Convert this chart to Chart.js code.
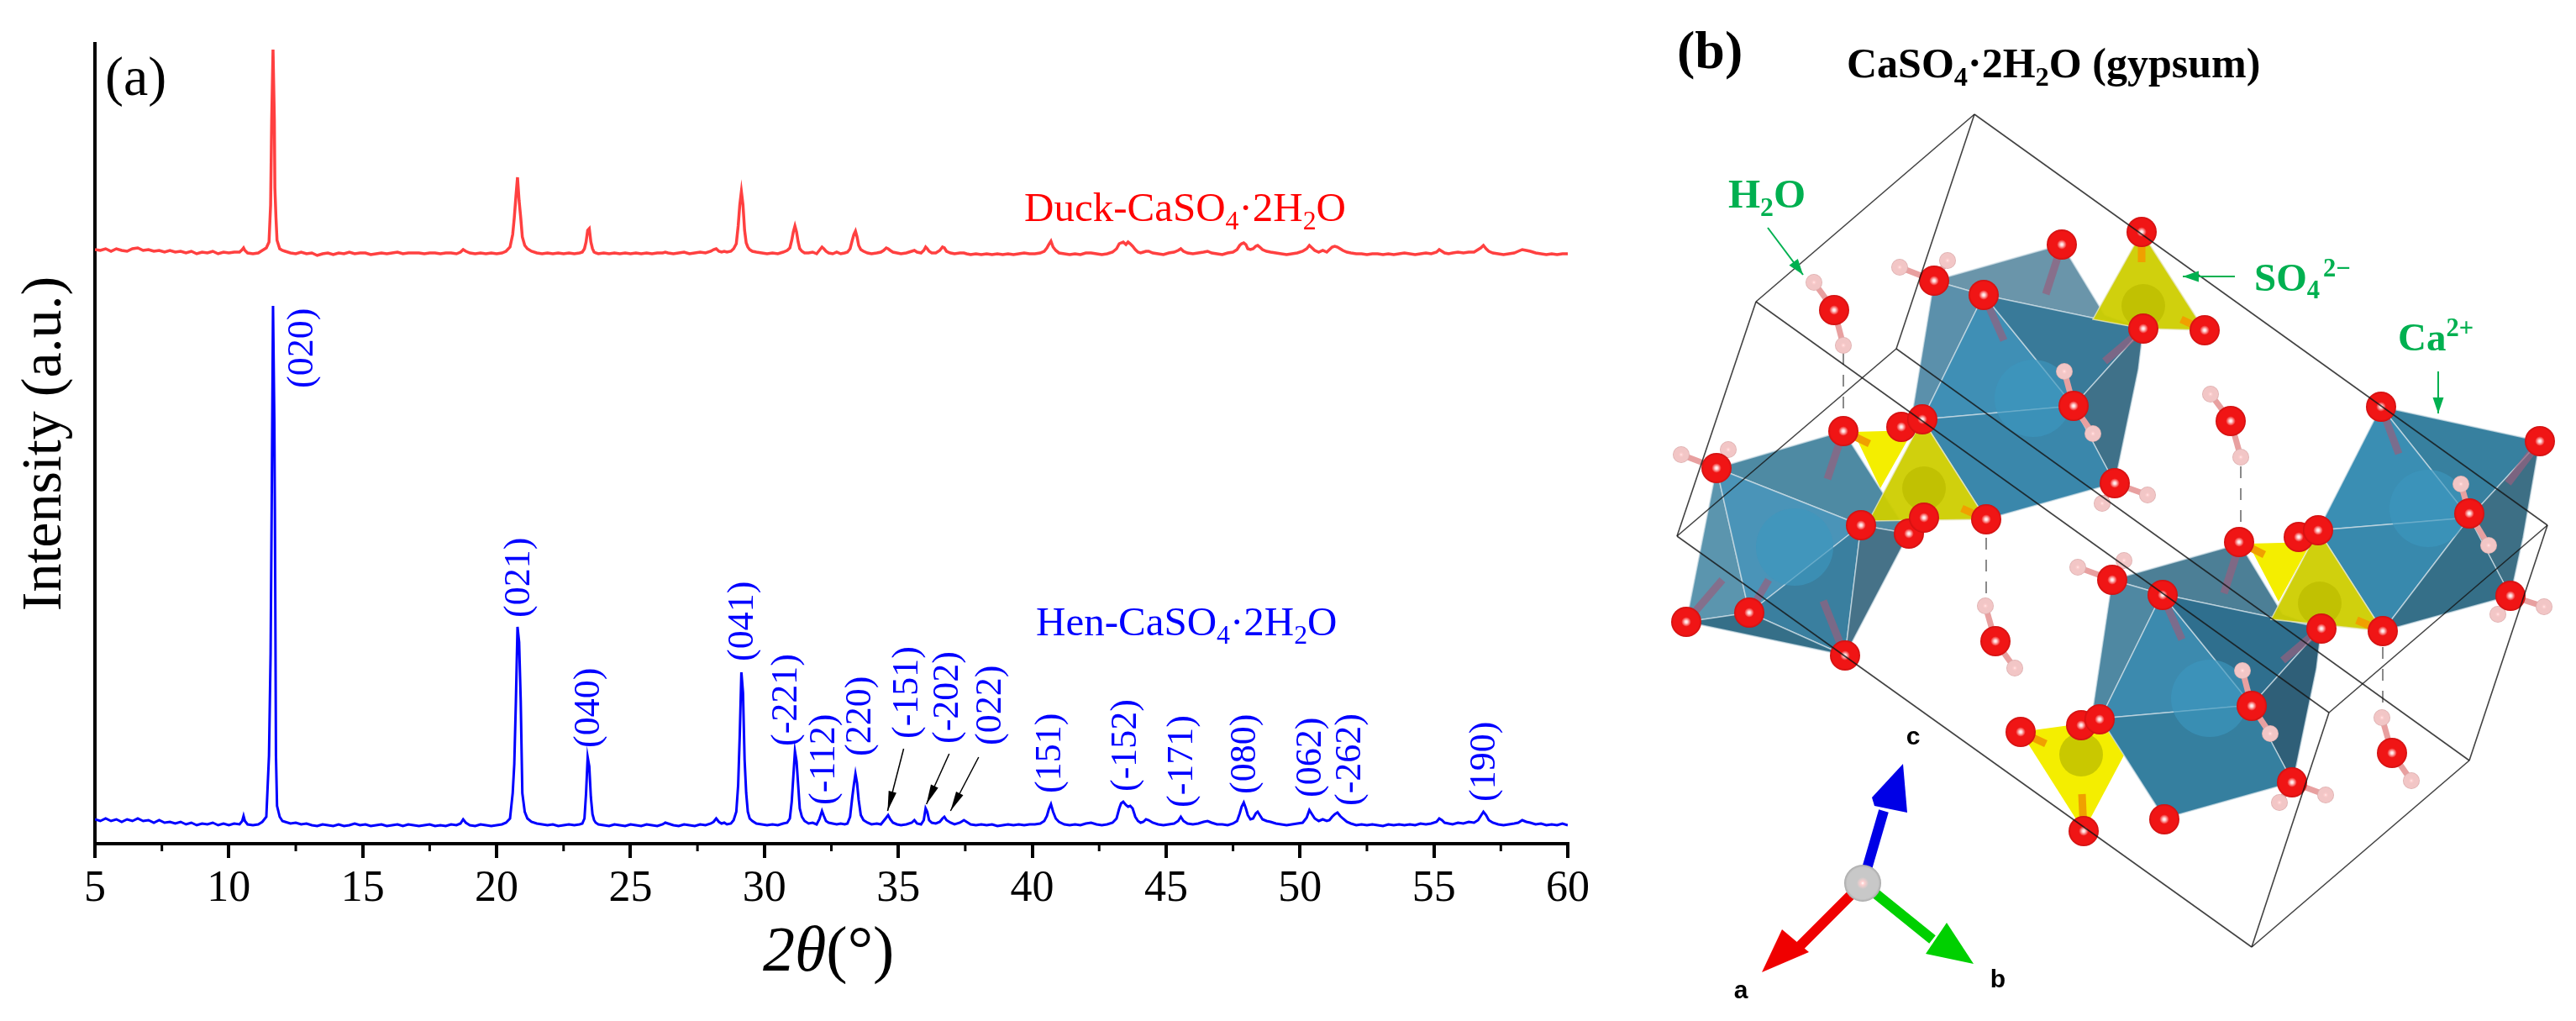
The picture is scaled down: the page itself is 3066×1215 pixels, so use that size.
<!DOCTYPE html>
<html>
<head>
<meta charset="utf-8">
<title>CaSO4·2H2O XRD</title>
<script src="https://cdn.jsdelivr.net/npm/chart.js@4"></script>
<style>
    html, body { margin: 0; padding: 0; background: #fff; }
    canvas { position: absolute; top: 0; }
    #graficoXRD { left: 0; }
    #graficoCelda { left: 1950px; }
</style>
</head>
<body>
<canvas id="graficoXRD" width="1950" height="1215"></canvas>
<canvas id="graficoCelda" width="1116" height="1215"></canvas>
<script>
// =========================
// DATA: XRD patterns
// =========================
const twoTheta = [
    5.0,5.2,5.4,5.6,5.8,6.0,6.2,6.4,6.6,6.8,7.0,7.2,7.4,7.6,7.8,8.0,
    8.2,8.4,8.6,8.8,9.0,9.2,9.4,9.6,9.8,10.0,10.2,10.4,10.5,10.55,10.6,10.7,
    10.9,11.1,11.25,11.4,11.5,11.56,11.6,11.65,11.7,11.72,11.76,11.8,11.9,12.0,12.1,12.3,
    12.5,12.7,12.9,13.1,13.3,13.5,13.7,13.9,14.1,14.3,14.5,14.7,14.9,15.1,15.3,15.5,
    15.7,15.9,16.1,16.3,16.5,16.7,16.9,17.1,17.3,17.5,17.7,17.9,18.1,18.3,18.5,18.65,
    18.75,18.85,19.0,19.2,19.4,19.6,19.8,20.0,20.2,20.35,20.5,20.6,20.66,20.72,20.78,20.84,
    20.9,20.96,21.05,21.15,21.3,21.5,21.7,21.9,22.1,22.3,22.5,22.7,22.9,23.1,23.2,23.28,
    23.34,23.4,23.46,23.52,23.58,23.64,23.7,23.8,24.0,24.2,24.4,24.6,24.8,25.0,25.2,25.4,
    25.6,25.8,26.0,26.2,26.3,26.4,26.6,26.8,27.0,27.2,27.4,27.6,27.8,28.0,28.1,28.2,
    28.3,28.4,28.5,28.6,28.75,28.85,28.95,29.02,29.08,29.14,29.2,29.26,29.32,29.38,29.45,29.55,
    29.7,29.9,30.1,30.3,30.5,30.7,30.85,30.95,31.02,31.08,31.14,31.2,31.26,31.32,31.4,31.5,
    31.65,31.8,31.95,32.05,32.15,32.22,32.3,32.4,32.55,32.7,32.85,33.0,33.1,33.2,33.28,33.34,
    33.4,33.46,33.52,33.6,33.7,33.85,34.0,34.2,34.35,34.45,34.55,34.62,34.7,34.8,34.95,35.1,
    35.3,35.5,35.6,35.7,35.85,35.95,36.02,36.08,36.15,36.25,36.4,36.55,36.65,36.72,36.8,36.95,
    37.1,37.3,37.45,37.55,37.7,37.9,38.1,38.3,38.5,38.7,38.9,39.1,39.3,39.5,39.7,39.9,
    40.1,40.3,40.45,40.55,40.62,40.7,40.78,40.88,41.0,41.2,41.4,41.6,41.8,42.0,42.2,42.4,
    42.6,42.8,43.0,43.15,43.25,43.32,43.4,43.5,43.58,43.66,43.75,43.85,43.95,44.05,44.15,44.25,
    44.35,44.5,44.7,44.9,45.1,45.3,45.45,45.55,45.65,45.8,46.0,46.2,46.4,46.55,46.7,46.9,
    47.1,47.3,47.5,47.65,47.75,47.82,47.9,47.98,48.05,48.15,48.25,48.35,48.42,48.5,48.6,48.75,
    48.9,49.1,49.3,49.5,49.7,49.9,50.1,50.25,50.35,50.45,50.55,50.7,50.85,51.0,51.1,51.2,
    51.3,51.4,51.5,51.6,51.75,51.9,52.1,52.3,52.5,52.7,52.9,53.1,53.3,53.5,53.7,53.9,
    54.1,54.3,54.5,54.7,54.9,55.1,55.2,55.3,55.4,55.55,55.7,55.9,56.1,56.3,56.5,56.65,
    56.75,56.85,56.95,57.05,57.2,57.4,57.6,57.8,58.0,58.15,58.3,58.45,58.6,58.8,59.0,59.2,
    59.4,59.6,59.8,60.0
];
const henIntensity = [
    29,27,30,27,29,26,29,27,30,27,28,25,28,25,26,24,
    26,23,25,22,24,23,25,22,24,22,24,23,27,33,27,23,
    22,23,26,32,105,226,400,640,500,398,105,45,32,27,26,24,
    25,23,24,22,21,23,22,21,23,21,22,24,22,23,21,22,
    23,21,22,23,21,23,22,21,22,23,21,22,21,23,22,24,
    29,25,22,21,23,22,21,22,23,25,30,60,95,170,258,240,
    170,60,38,30,26,24,23,22,23,21,22,23,22,23,24,30,
    60,103,92,55,35,28,25,23,22,21,23,22,21,23,22,21,
    23,22,21,23,25,24,22,21,23,22,21,23,22,24,26,30,
    26,24,25,23,24,28,38,70,130,204,180,100,60,38,30,27,
    24,23,22,23,22,24,25,30,50,80,110,98,70,42,32,27,
    24,25,23,29,39,33,27,25,24,23,24,23,24,32,55,70,
    83,72,52,34,28,25,23,24,23,27,31,34,29,25,23,22,
    23,25,28,24,23,28,42,38,28,25,24,26,30,32,28,25,
    23,25,28,26,23,22,23,22,23,21,22,23,22,23,22,23,
    23,24,27,33,41,47,38,30,26,23,22,23,22,24,25,23,
    22,23,25,30,42,48,50,46,44,45,42,32,27,25,26,29,
    28,25,23,22,23,24,27,32,27,24,23,24,26,27,25,23,
    23,22,24,27,36,44,49,42,34,29,30,36,38,34,29,27,
    26,24,23,22,23,24,25,31,40,35,30,27,29,27,28,32,
    35,37,33,30,26,24,22,23,22,23,22,21,23,22,23,22,
    23,22,24,23,24,26,30,28,25,24,23,25,24,26,25,28,
    33,38,34,28,25,23,22,23,24,25,28,26,25,23,24,22,
    23,22,24,22
];
const duckIntensity = [
    707,706,708,705,708,706,705,708,709,706,707,705,706,704,706,704,
    705,703,705,702,704,703,705,702,704,703,704,704,707,709,706,703,
    702,703,706,709,716,760,861,945,861,780,745,718,708,706,705,703,
    702,704,702,703,700,702,703,701,703,702,704,702,703,703,701,702,
    703,702,703,704,702,703,703,703,702,703,703,702,703,703,702,704,
    707,705,703,702,703,702,703,702,703,705,710,725,745,770,793,765,
    745,722,712,708,705,703,702,703,702,703,702,703,702,703,704,708,
    716,730,732,716,708,704,703,702,703,702,703,702,703,702,703,702,
    703,702,703,703,704,703,702,703,704,702,703,704,703,705,707,708,
    705,704,705,704,705,708,714,735,760,776,760,730,715,710,707,705,
    704,703,702,703,702,704,706,709,718,728,735,728,716,708,705,703,
    703,704,702,706,710,708,705,703,702,704,702,703,704,708,718,725,
    729,722,712,707,705,703,702,703,704,706,709,708,706,704,703,702,
    703,705,706,704,703,706,710,708,705,703,703,706,710,709,705,703,
    702,703,703,702,701,702,701,702,701,702,701,702,701,702,703,702,
    702,703,705,709,713,717,710,706,703,702,701,702,701,703,703,702,
    701,702,704,708,714,715,716,713,716,714,711,707,704,703,704,705,
    705,703,702,701,703,704,706,708,705,703,702,703,704,705,703,702,
    701,703,704,707,712,714,715,713,708,707,708,711,712,710,707,705,
    704,703,702,701,702,703,705,708,712,709,706,704,706,704,707,710,
    711,710,708,706,704,703,702,702,701,702,702,701,702,701,702,703,
    702,701,702,703,702,704,707,705,703,702,703,704,703,704,704,707,
    709,712,708,705,703,702,701,702,703,705,707,706,705,703,702,701,
    702,701,702,702
];

const xTickValues = [5, 10, 15, 20, 25, 30, 35, 40, 45, 50, 55, 60];
const xMinorTicks = [7.5, 12.5, 17.5, 22.5, 27.5, 32.5, 37.5, 42.5, 47.5, 52.5, 57.5];

// Miller indices and where each rotated label starts
const peakLabels = ['(020)', '(021)', '(040)', '(041)', '(-221)', '(-112)', '(220)', '(-151)', '(-202)',
                    '(022)', '(151)', '(-152)', '(-171)', '(080)', '(062)', '(-262)', '(190)'];
const peakLabelX = [12.75, 20.87, 23.45, 29.2, 30.85, 32.25, 33.6, 35.35, 36.85,
                    38.45, 40.7, 43.5, 45.6, 47.96, 50.4, 51.9, 56.9];
const peakLabelY = [542, 269, 114, 217, 116, 46, 104, 125, 119, 117, 60, 62, 43, 59, 55, 45, 50];

// small arrows: from the labels down to the weak peaks
const arrowFromX = [35.2, 36.9, 38.0];
const arrowFromY = [113, 107, 103];
const arrowToX = [34.6, 36.05, 36.95];
const arrowToY = [39, 47, 39];

// =========================
// DATA: crystal structure (panel b, picture coordinates)
// =========================
const cellEdges = [
    [[2350,136],[2090,359]], [[2350,136],[3032,625]], [[2350,136],[2257,415]],
    [[2090,359],[1996,638]], [[2090,359],[2772,848]], [[3032,625],[2772,848]],
    [[3032,625],[2939,905]], [[2257,415],[1996,638]], [[2257,415],[2939,905]],
    [[1996,638],[2680,1127]], [[2772,848],[2680,1127]], [[2939,905],[2680,1127]]
];
const hydrogenBondLines = [
    [[2194,420],[2194,505]], [[2364,640],[2364,715]],
    [[2667,555],[2667,640]], [[2836,770],[2836,850]]
];
const caPolyhedra = [
    // left
    { c: '#4e8aa3', p: [[2043,557],[2194,513],[2272,635],[2215,625]] },
    { c: '#5b95ae', p: [[2043,557],[2082,729],[2007,740]] },
    { c: '#4a94b8', p: [[2043,557],[2215,625],[2082,729]] },
    { c: '#3a7f9f', p: [[2215,625],[2196,780],[2082,729]] },
    { c: '#467288', p: [[2215,625],[2272,635],[2196,780]] },
    { c: '#356f88', p: [[2007,740],[2082,729],[2196,780]] },
    // upper middle
    { c: '#6a95aa', p: [[2302,334],[2454,291],[2505,375],[2551,391],[2361,351]] },
    { c: '#5b90ab', p: [[2302,334],[2361,351],[2288,499],[2277,486]] },
    { c: '#3f8fb5', p: [[2361,351],[2468,483],[2288,499]] },
    { c: '#397a99', p: [[2361,351],[2551,391],[2468,483]] },
    { c: '#3f7189', p: [[2551,391],[2545,440],[2517,575],[2468,483]] },
    { c: '#3a87ab', p: [[2288,499],[2468,483],[2517,575],[2364,618]] },
    // right
    { c: '#37809f', p: [[2834,484],[3023,525],[2939,616]] },
    { c: '#3a8eb3', p: [[2834,484],[2939,616],[2759,631]] },
    { c: '#3d6f85', p: [[3023,525],[3003,640],[2988,709],[2939,616]] },
    { c: '#3889ad', p: [[2759,631],[2939,616],[2836,751]] },
    { c: '#356f88', p: [[2939,616],[2988,709],[2836,751]] },
    // lower middle
    { c: '#4c7f96', p: [[2514,690],[2666,647],[2717,731],[2763,747],[2573,707]] },
    { c: '#4f88a2', p: [[2514,690],[2573,707],[2500,855],[2487,870]] },
    { c: '#3c8aae', p: [[2573,707],[2680,839],[2500,855]] },
    { c: '#2f6f8e', p: [[2573,707],[2763,747],[2680,839]] },
    { c: '#2f5f78', p: [[2763,747],[2757,796],[2729,931],[2680,839]] },
    { c: '#357f9f', p: [[2500,855],[2680,839],[2729,931],[2576,974]] }
];
const sulfateBack = [
    [[2206,514],[2277,512],[2238,581]],
    [[2676,647],[2751,645],[2712,716]],
    [[2405,871],[2500,858],[2530,895],[2480,989]]
];
const sulfateFront = [
    [[2549,276],[2491,380],[2551,391],[2624,393]],
    [[2288,499],[2224,620],[2364,618]],
    [[2759,631],[2703,737],[2836,751]]
];
const sulfurAtoms = [[2551,364],[2290,581],[2477,898],[2761,718]];
const calciumAtoms = [[2420,474],[2136,651],[2630,831],[2890,605]];
const caBonds = [
    [[2454,291],[2435,350]], [[2361,351],[2385,405]], [[2551,391],[2505,430]],
    [[2666,647],[2647,706]], [[2573,707],[2597,761]], [[2763,747],[2717,786]],
    [[2194,513],[2175,570]], [[2082,729],[2105,690]], [[2007,740],[2050,690]],
    [[2196,780],[2170,715]], [[3023,525],[2985,575]], [[2834,484],[2855,540]]
];
const sulfateBonds = [
    [[2549,276],[2549,312]], [[2624,393],[2596,380]], [[2194,513],[2225,528]],
    [[2405,871],[2435,885]], [[2480,989],[2478,945]], [[2665,645],[2695,660]],
    [[2836,751],[2805,738]], [[2364,618],[2335,605]]
];
const oxygenBack = [[2263,508],[2272,635],[2736,639],[2477,863]];
const oxygenAtoms = [
    [2454,291],[2549,276],[2302,334],[2361,351],[2551,391],[2624,393],[2183,369],[2468,483],
    [2288,499],[2194,513],[2043,557],[2517,575],[2655,501],[2834,484],[3023,525],[2939,611],
    [2215,625],[2290,616],[2364,618],[2007,740],[2082,729],[2196,780],[2375,763],[2665,645],
    [2759,631],[2514,690],[2574,708],[2763,748],[2836,751],[2988,709],[2680,840],[2499,856],
    [2405,871],[2847,896],[2728,931],[2576,975],[2480,989]
];
const hydrogenAtoms = [
    [2159,336],[2194,411],[2261,318],[2318,310],[2457,442],[2491,516],[2631,469],[2667,544],
    [2001,541],[2057,535],[2556,589],[2502,599],[2929,576],[2962,649],[2473,675],[2528,667],
    [2363,721],[2398,795],[3028,722],[2973,731],[2669,798],[2702,873],[2835,854],[2870,929],
    [2768,946],[2713,955]
];
const waterBonds = [
    [[2183,369],[2159,336]], [[2183,369],[2194,411]], [[2302,334],[2261,318]], [[2302,334],[2318,310]],
    [[2468,483],[2457,442]], [[2468,483],[2491,516]], [[2655,501],[2631,469]], [[2655,501],[2667,544]],
    [[2043,557],[2001,541]], [[2043,557],[2057,535]], [[2517,575],[2556,589]], [[2517,575],[2502,599]],
    [[2939,611],[2929,576]], [[2939,611],[2962,649]], [[2514,690],[2473,675]], [[2514,690],[2528,667]],
    [[2375,763],[2363,721]], [[2375,763],[2398,795]], [[2988,709],[3028,722]], [[2988,709],[2973,731]],
    [[2680,840],[2669,798]], [[2680,840],[2702,873]], [[2847,896],[2835,854]], [[2847,896],[2870,929]],
    [[2728,931],[2768,946]], [[2728,931],[2713,955]]
];
const triadCentre = [[2217,1051]];
const triadArrows = [
    { c: '#0000e6', shaft: [[2217,1051],[2242,965]], head: [[2228,949],[2265,909],[2270,967],[2231,959]] },
    { c: '#f00000', shaft: [[2217,1051],[2140,1128]], head: [[2121,1106],[2153,1133],[2097,1157]] },
    { c: '#00d000', shaft: [[2217,1051],[2300,1118]], head: [[2317,1098],[2292,1135],[2349,1147]] }
];

const SERIF = '"Liberation Serif", "Times New Roman", serif';
const GREEN = '#00b050';

// =========================
// TEXT HELPERS
// =========================
// draws a run of text with subscripts and superscripts, returns nothing
function drawRuns(ctx, x, y, runs, size, color, weight) {
    ctx.save();
    ctx.fillStyle = color;
    ctx.textAlign = 'left';
    ctx.textBaseline = 'alphabetic';
    let cx = x;
    runs.forEach((r) => {
        const small = r.sub || r.sup;
        const s = small ? size * 0.65 : size;
        ctx.font = (r.italic ? 'italic ' : '') + (weight || '') + ' ' + s + 'px ' + SERIF;
        const t = r.sub || r.sup || r.t;
        const dy = r.sub ? size * 0.2 : (r.sup ? -size * 0.36 : 0);
        ctx.fillText(t, cx, y + dy);
        cx += ctx.measureText(t).width;
    });
    ctx.restore();
}

// =========================
// PANEL (a): XRD
// =========================
const xrdPlugin = {
    id: 'xrdExtras',
    afterDraw(chart) {
        const ctx = chart.ctx;
        const x = chart.scales.x;
        const y = chart.scales.y;

        // short minor ticks between the labelled ones
        ctx.save();
        ctx.strokeStyle = '#000';
        ctx.lineWidth = 3;
        xMinorTicks.forEach((v) => {
            const px = x.getPixelForValue(v);
            ctx.beginPath();
            ctx.moveTo(px, y.bottom);
            ctx.lineTo(px, y.bottom + 9);
            ctx.stroke();
        });
        ctx.restore();

        // Miller indices
        peakLabels.forEach((label, i) => {
            ctx.save();
            ctx.translate(x.getPixelForValue(peakLabelX[i]), y.getPixelForValue(peakLabelY[i]));
            ctx.rotate(-Math.PI / 2);
            ctx.fillStyle = '#0000ff';
            ctx.font = '44px ' + SERIF;
            ctx.textAlign = 'left';
            ctx.textBaseline = 'middle';
            ctx.fillText(label, 0, 0);
            ctx.restore();
        });

        // arrows to the weak peaks
        arrowFromX.forEach((v, i) => {
            const x0 = x.getPixelForValue(v);
            const y0 = y.getPixelForValue(arrowFromY[i]);
            const x1 = x.getPixelForValue(arrowToX[i]);
            const y1 = y.getPixelForValue(arrowToY[i]);
            const a = Math.atan2(y1 - y0, x1 - x0);
            ctx.save();
            ctx.strokeStyle = '#000';
            ctx.fillStyle = '#000';
            ctx.lineWidth = 1.5;
            ctx.beginPath();
            ctx.moveTo(x0, y0);
            ctx.lineTo(x1, y1);
            ctx.stroke();
            ctx.beginPath();
            ctx.moveTo(x1, y1);
            ctx.lineTo(x1 - 24 * Math.cos(a - 0.2), y1 - 24 * Math.sin(a - 0.2));
            ctx.lineTo(x1 - 24 * Math.cos(a + 0.2), y1 - 24 * Math.sin(a + 0.2));
            ctx.closePath();
            ctx.fill();
            ctx.restore();
        });

        drawRuns(ctx, 125, 113, [{ t: '(a)' }], 66, '#000');
        drawRuns(ctx, 1219, 263, [{ t: 'Duck-CaSO' }, { sub: '4' }, { t: '·2H' }, { sub: '2' }, { t: 'O' }], 49, '#ff0000');
        drawRuns(ctx, 1233, 756, [{ t: 'Hen-CaSO' }, { sub: '4' }, { t: '·2H' }, { sub: '2' }, { t: 'O' }], 49, '#0000ff');
        drawRuns(ctx, 908, 1155, [{ t: '2', italic: true }, { t: 'θ', italic: true }, { t: '(°)' }], 76, '#000');
    }
};

new Chart(document.getElementById('graficoXRD'), {
    type: 'scatter',
    plugins: [xrdPlugin],
    data: {
        datasets: [
            {
                label: 'Duck-CaSO4·2H2O',
                data: twoTheta.map((v, i) => ({ x: v, y: duckIntensity[i] })),
                showLine: true,
                borderColor: '#ff4040',
                borderWidth: 3.5,
                pointRadius: 0
            },
            {
                label: 'Hen-CaSO4·2H2O',
                data: twoTheta.map((v, i) => ({ x: v, y: henIntensity[i] })),
                showLine: true,
                borderColor: '#0000ff',
                borderWidth: 3,
                pointRadius: 0
            }
        ]
    },
    options: {
        responsive: false,
        animation: false,
        layout: { autoPadding: false, padding: { top: 52, right: 84, left: 0, bottom: 0 } },
        plugins: { legend: { display: false }, tooltip: { enabled: false } },
        scales: {
            x: {
                type: 'linear',
                min: 5,
                max: 60,
                afterBuildTicks: (axis) => { axis.ticks = xTickValues.map((v) => ({ value: v })); },
                afterFit: (axis) => { axis.height = 211; },
                border: { color: '#000', width: 4 },
                grid: { drawOnChartArea: false, color: '#000', tickLength: 17, lineWidth: 4 },
                ticks: { color: '#000', font: { family: SERIF, size: 52 }, padding: 6, maxRotation: 0, autoSkip: false }
            },
            y: {
                min: 0,
                max: 952,
                afterFit: (axis) => { axis.width = 113; },
                border: { color: '#000', width: 4 },
                grid: { display: false },
                ticks: { display: false },
                title: {
                    display: true,
                    text: 'Intensity (a.u.)',
                    color: '#000',
                    font: { family: SERIF, size: 68 },
                    padding: { top: 13, bottom: 0 }
                }
            }
        }
    }
});

// =========================
// PANEL (b): CRYSTAL STRUCTURE
// =========================
function makeAtom(radius, mid, edge) {
    const c = document.createElement('canvas');
    c.width = c.height = radius * 2;
    const g = c.getContext('2d');
    const grad = g.createRadialGradient(radius, radius, 0, radius, radius, radius);
    grad.addColorStop(0, '#ffffff');
    grad.addColorStop(0.1, '#ffd0d0');
    grad.addColorStop(0.32, mid);
    grad.addColorStop(0.85, mid);
    grad.addColorStop(1, edge);
    g.fillStyle = grad;
    g.beginPath();
    g.arc(radius, radius, radius, 0, Math.PI * 2);
    g.fill();
    return c;
}

const xy = (p) => ({ x: p[0], y: p[1] });
const segment = (seg, color, width, dash) => ({
    data: seg.map(xy), showLine: true, borderColor: color, borderWidth: width,
    borderDash: dash || [], pointRadius: 0
});
const polygon = (pts, color, edge) => ({
    data: pts.concat([pts[0]]).map(xy), showLine: true, fill: 'shape', backgroundColor: color,
    borderColor: edge || color, borderWidth: edge ? 1.5 : 0, pointRadius: 0
});
const atoms = (pts, style) => ({ data: pts.map(xy), showLine: false, pointStyle: style, pointRadius: 20 });
const discs = (pts, color, r) => ({
    data: pts.map(xy), showLine: false, pointRadius: r, pointBackgroundColor: color, pointBorderWidth: 0
});

// back to front; the list is reversed below because Chart.js paints the first dataset last
const capas = [];
hydrogenBondLines.forEach((s) => capas.push(segment(s, '#8a8a8a', 2, [14, 12])));
sulfateBack.forEach((p) => capas.push(polygon(p, '#f4ee00')));
caPolyhedra.forEach((o) => capas.push(polygon(o.p, o.c, 'rgba(205,222,230,0.75)')));
capas.push(discs(calciumAtoms, 'rgba(60,150,190,0.65)', 46));
caBonds.forEach((s) => capas.push(segment(s, 'rgba(150,95,125,0.7)', 9)));
sulfateFront.forEach((p) => capas.push(polygon(p, 'rgba(205,205,0,0.95)', 'rgba(230,230,190,0.8)')));
capas.push(discs(sulfurAtoms, 'rgba(190,190,0,0.8)', 26));
sulfateBonds.forEach((s) => capas.push(segment(s, '#f0a000', 9)));
capas.push(atoms(oxygenBack, makeAtom(18, '#f01515', '#cc1010')));
waterBonds.forEach((s) => capas.push(segment(s, '#e8a0a0', 7)));
capas.push(atoms(hydrogenAtoms, makeAtom(10, '#f2c6c6', '#d8a8a8')));
capas.push(atoms(oxygenAtoms, makeAtom(18, '#f01515', '#cc1010')));
cellEdges.forEach((s) => capas.push(segment(s, 'rgba(20,20,20,0.8)', 1.6)));
triadArrows.forEach((a) => {
    capas.push(segment(a.shaft, a.c, 12));
    capas.push(polygon(a.head, a.c));
});
capas.push(atoms(triadCentre, makeAtom(22, '#c8c8c8', '#a8a8a8')));

function greenArrow(ctx, x0, y0, x1, y1) {
    const a = Math.atan2(y1 - y0, x1 - x0);
    ctx.save();
    ctx.strokeStyle = GREEN;
    ctx.fillStyle = GREEN;
    ctx.lineWidth = 2;
    ctx.beginPath();
    ctx.moveTo(x0, y0);
    ctx.lineTo(x1, y1);
    ctx.stroke();
    ctx.beginPath();
    ctx.moveTo(x1, y1);
    ctx.lineTo(x1 - 20 * Math.cos(a - 0.33), y1 - 20 * Math.sin(a - 0.33));
    ctx.lineTo(x1 - 20 * Math.cos(a + 0.33), y1 - 20 * Math.sin(a + 0.33));
    ctx.closePath();
    ctx.fill();
    ctx.restore();
}

const celdaPlugin = {
    id: 'celdaTextos',
    afterDraw(chart) {
        const ctx = chart.ctx;
        const sx = (v) => chart.scales.x.getPixelForValue(v);
        const sy = (v) => chart.scales.y.getPixelForValue(v);

        drawRuns(ctx, sx(1996), sy(81), [{ t: '(b)' }], 64, '#000', 'bold');
        drawRuns(ctx, sx(2198), sy(92), [{ t: 'CaSO' }, { sub: '4' }, { t: '·2H' }, { sub: '2' }, { t: 'O (gypsum)' }], 50, '#000', 'bold');
        drawRuns(ctx, sx(2057), sy(247), [{ t: 'H' }, { sub: '2' }, { t: 'O' }], 49, GREEN, 'bold');
        drawRuns(ctx, sx(2683), sy(346), [{ t: 'SO' }, { sub: '4' }], 47, GREEN, 'bold');
        drawRuns(ctx, sx(2765), sy(346), [{ sup: '2−' }], 47, GREEN, 'bold');
        drawRuns(ctx, sx(2854), sy(417), [{ t: 'Ca' }, { sup: '2+' }], 47, GREEN, 'bold');

        greenArrow(ctx, sx(2104), sy(271), sx(2146), sy(327));
        greenArrow(ctx, sx(2660), sy(329), sx(2598), sy(329));
        greenArrow(ctx, sx(2902), sy(442), sx(2902), sy(492));

        ctx.save();
        ctx.fillStyle = '#000';
        ctx.font = 'bold 30px "Liberation Sans", Arial, sans-serif';
        ctx.textAlign = 'center';
        ctx.textBaseline = 'middle';
        ctx.fillText('c', sx(2277), sy(878));
        ctx.fillText('a', sx(2072), sy(1180));
        ctx.fillText('b', sx(2378), sy(1167));
        ctx.restore();
    }
};

new Chart(document.getElementById('graficoCelda'), {
    type: 'scatter',
    plugins: [celdaPlugin],
    data: { datasets: capas.reverse() },
    options: {
        responsive: false,
        animation: false,
        layout: { autoPadding: false, padding: 0 },
        plugins: { legend: { display: false }, tooltip: { enabled: false } },
        scales: {
            x: { type: 'linear', min: 1950, max: 3066, display: false },
            y: { type: 'linear', min: 0, max: 1215, reverse: true, display: false }
        }
    }
});
</script>
</body>
</html>
